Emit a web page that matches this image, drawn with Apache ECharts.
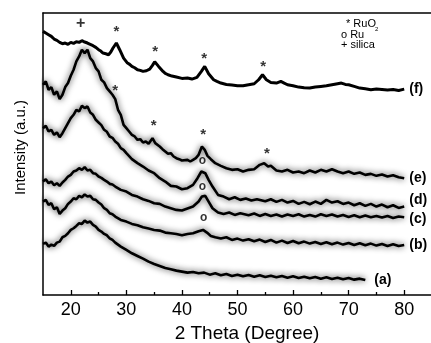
<!DOCTYPE html>
<html>
<head>
<meta charset="utf-8">
<script src="https://cdn.jsdelivr.net/npm/echarts@6/dist/echarts.min.js"></script>
<style>
  html, body { margin: 0; padding: 0; background: #fff; }
  #chart { width: 431px; height: 343px; }
</style>
</head>
<body>
<div id="chart"></div>
<script>
const FONT = '"Liberation Sans", Arial, sans-serif';

const X_TICKS = [20, 30, 40, 50, 60, 70, 80];
const X_MINOR = [25, 35, 45, 55, 65, 75];

// [2theta, intensity (a.u., stacked)]
const curveF = [
  [15, 905], [15.5, 900], [16, 895], [16.5, 890], [17, 882], [17.5, 878], [18, 872], [18.5, 868], [19, 870],
  [19.5, 866], [20, 872], [20.5, 869], [21, 874], [21.5, 872], [22, 877], [22.5, 873], [23, 870], [23.5, 866],
  [24, 862], [24.5, 857], [25, 850], [25.4, 846], [25.8, 840], [26.3, 838], [26.8, 835], [27.2, 843],
  [27.6, 855], [28.2, 870], [28.8, 850], [29.5, 825], [30.2, 810], [30.6, 806], [31, 800], [31.5, 796],
  [32, 790], [32.5, 788], [33, 785], [33.6, 787], [34.2, 792], [34.7, 803], [35.1, 814], [35.8, 800],
  [36.6, 785], [37, 779], [37.5, 775], [38.2, 771], [39, 768], [40, 764], [41, 765], [41.8, 762],
  [42.7, 767], [43.5, 785], [44.1, 800], [44.8, 778], [45.7, 760], [46.3, 755], [47, 750], [48, 746],
  [49, 744], [50, 742], [51, 742], [52, 745], [53, 748], [53.8, 760], [54.5, 775], [55.2, 760], [56, 752],
  [57, 750], [57.8, 755], [58.4, 750], [59, 745], [60, 742], [61, 738], [62, 736], [63, 735], [64, 738],
  [65, 740], [66, 742], [67, 745], [68, 748], [68.7, 750], [69.4, 746], [70, 745], [71, 740], [72, 735],
  [73, 733], [74, 730], [75, 732], [76, 731], [77, 729], [78, 731], [79, 728], [80, 732]
];

const curveE = [
  [15, 745], [15.5, 755], [16, 730], [16.5, 738], [17, 715], [17.5, 725], [18, 702], [18.5, 715], [19, 738],
  [19.5, 750], [20, 772], [20.5, 790], [21, 815], [21.5, 830], [22, 850], [22.5, 840], [23, 850], [23.5, 825],
  [24, 815], [24.5, 795], [25, 785], [25.5, 760], [26, 752], [26.5, 735], [27, 725], [27.5, 715], [28, 702],
  [28.5, 670], [29, 655], [29.5, 625], [30, 615], [30.5, 605], [31, 595], [31.5, 590], [32, 580], [32.5, 582],
  [33, 572], [33.5, 575], [34, 568], [34.7, 585], [35.2, 570], [36, 560], [36.5, 552], [37, 545], [37.5, 538],
  [38, 540], [38.5, 530], [39, 525], [39.5, 522], [40, 518], [41, 520], [41.5, 515], [42, 520], [42.5, 525],
  [43, 535], [43.6, 560], [44.1, 550], [44.6, 532], [45.2, 522], [46, 510], [47, 502], [48, 495], [49, 490],
  [50, 492], [51, 485], [52, 490], [53, 492], [54, 505], [54.8, 510], [55.5, 500], [56, 502], [57, 488],
  [58, 485], [59, 490], [60, 482], [61, 485], [62, 480], [63, 488], [64, 482], [65, 490], [66, 485], [67, 492],
  [68, 485], [69, 480], [70, 485], [71, 478], [72, 482], [73, 475], [74, 478], [75, 472], [76, 476], [77, 470],
  [78, 474], [79, 468], [80, 465]
];

const curveD = [
  [15, 615], [15.5, 622], [16, 605], [16.5, 610], [17, 595], [17.5, 602], [18, 588], [18.5, 600], [19, 615],
  [19.5, 630], [20, 645], [20.5, 655], [21, 670], [21.5, 665], [22, 682], [22.5, 675], [23, 680], [23.5, 662],
  [24, 655], [24.5, 640], [25, 632], [25.5, 624], [26, 610], [26.5, 604], [27, 590], [27.5, 586], [28, 575],
  [28.5, 568], [29, 555], [29.5, 550], [30, 540], [31, 522], [32, 510], [33, 500], [34, 488], [35, 480],
  [36, 465], [37, 455], [38, 442], [39, 440], [40, 432], [41, 435], [42, 445], [42.8, 465], [43.5, 485],
  [44.2, 480], [44.8, 460], [45.5, 440], [46.5, 415], [47.5, 410], [48.5, 402], [49.5, 408], [50.5, 400],
  [51.5, 404], [52.5, 398], [53.5, 402], [55, 396], [56, 402], [57, 394], [58, 400], [59, 392], [60, 397],
  [61, 388], [62, 394], [63, 387], [64, 395], [65, 388], [66, 400], [67, 392], [68, 396], [69, 388], [70, 392],
  [71, 384], [72, 390], [73, 382], [74, 388], [75, 380], [76, 386], [77, 378], [78, 384], [79, 376], [80, 380]
];

const curveC = [
  [15, 455], [15.5, 462], [16, 450], [16.5, 455], [17, 444], [17.5, 450], [18, 442], [18.5, 452], [19, 460],
  [19.5, 470], [20, 475], [20.5, 485], [21, 488], [21.5, 495], [22, 490], [22.5, 498], [23, 488], [23.5, 490],
  [24, 480], [24.5, 478], [25, 470], [25.5, 466], [26, 460], [26.5, 455], [27, 448], [27.5, 446], [28, 440],
  [29, 430], [30, 425], [31, 415], [32, 410], [33, 402], [34, 397], [35, 390], [36, 388], [37, 380], [38, 375],
  [39, 370], [40, 368], [41, 374], [42, 380], [43, 395], [43.6, 410], [44.2, 412], [44.8, 395], [45.5, 375],
  [46.5, 362], [47.5, 358], [48.5, 362], [49.5, 355], [50.5, 360], [52, 354], [53, 359], [54, 352], [55, 358],
  [56, 352], [57, 356], [58, 350], [59, 356], [60, 352], [61, 357], [62, 350], [63, 355], [64, 350], [65, 357],
  [66, 352], [67, 356], [68, 350], [69, 355], [70, 349], [71, 354], [72, 348], [73, 353], [74, 348], [75, 352],
  [76, 347], [77, 352], [78, 346], [79, 350], [80, 348]
];

const curveB = [
  [15, 395], [15.5, 400], [16, 385], [16.5, 390], [17, 372], [17.5, 378], [18, 358], [18.5, 368], [19, 375],
  [19.5, 388], [20, 395], [20.5, 405], [21, 402], [21.5, 412], [22, 408], [22.5, 416], [23, 410], [23.5, 412],
  [24, 402], [24.5, 400], [25, 392], [25.5, 386], [26, 375], [26.5, 370], [27, 360], [27.5, 357], [28, 350],
  [29, 340], [30, 335], [31, 328], [32, 324], [33, 318], [34, 314], [35, 310], [36, 308], [37, 302], [38, 300],
  [39, 298], [40, 294], [41, 298], [42, 300], [43, 306], [43.8, 310], [44.5, 302], [45.2, 292], [46, 288],
  [47, 284], [48, 288], [49, 280], [50, 284], [51, 278], [52, 282], [53, 276], [54, 281], [55, 274], [56, 280],
  [57, 272], [58, 278], [59, 271], [60, 277], [61, 270], [62, 275], [63, 269], [64, 274], [65, 268], [66, 273],
  [67, 267], [68, 272], [69, 266], [70, 271], [71, 265], [72, 270], [73, 264], [74, 269], [75, 263], [76, 268],
  [77, 262], [78, 267], [79, 262], [80, 265]
];

const curveA = [
  [15, 268], [15.5, 272], [16, 260], [16.5, 266], [17, 262], [17.5, 272], [18, 275], [18.5, 288], [19, 292],
  [19.5, 300], [20, 310], [20.5, 315], [21, 322], [21.5, 330], [22, 328], [22.5, 338], [23, 332], [23.5, 335],
  [24, 325], [24.5, 320], [25, 310], [25.5, 305], [26, 298], [26.5, 294], [27, 285], [27.5, 280], [28, 272],
  [29, 260], [30, 250], [31, 240], [32, 232], [33, 224], [34, 215], [35, 208], [36, 202], [37, 196], [38, 192],
  [39, 188], [40, 185], [41, 182], [42, 184], [43, 180], [44, 182], [45, 176], [46, 180], [47, 174], [48, 178],
  [49, 172], [50, 176], [51, 171], [52, 175], [53, 170], [54, 174], [55, 169], [56, 173], [57, 168], [58, 172],
  [59, 167], [60, 171], [61, 166], [62, 170], [63, 165], [64, 169], [65, 164], [66, 168], [67, 163], [68, 167],
  [69, 162], [70, 166], [71, 161], [72, 164], [73, 160]
];

// peak markers
const ruo2Peaks = [[28.2, 912], [35.2, 854], [44.0, 833], [54.6, 807], [28.0, 735], [34.9, 630], [43.8, 603], [55.3, 547]];
const ruPeaks = [[43.7, 513], [43.7, 438], [43.9, 345]];
const silicaPeaks = [[21.8, 928]];

const chart = echarts.init(document.getElementById('chart'), null, { renderer: 'canvas' });

function curve(name, data, width, halo, dist, dy) {
  return {
    name,
    type: 'line',
    data,
    showSymbol: false,
    symbol: 'none',
    animation: false,
    lineStyle: {
      color: '#000',
      width,
      shadowColor: halo ? 'rgba(0,0,0,0.8)' : 'transparent',
      shadowBlur: halo
    },
    endLabel: {
      show: true,
      formatter: name,
      distance: dist,
      offset: [0, dy],
      color: '#000',
      fontFamily: FONT,
      fontWeight: 'bold',
      fontSize: 14
    },
    z: 2
  };
}

function marks(data, ch, size, dy) {
  return {
    type: 'scatter',
    data,
    symbolSize: 1,
    itemStyle: { color: 'transparent' },
    silent: true,
    animation: false,
    label: {
      show: true,
      position: 'inside',
      formatter: ch,
      offset: [0, dy],
      color: '#000',
      fontFamily: FONT,
      fontWeight: 'bold',
      fontSize: size
    },
    z: 5
  };
}

const axisColor = '#000';

chart.setOption({
  backgroundColor: '#fff',
  animation: false,
  grid: { left: 43, top: 13, width: 389, height: 282, outerBoundsMode: 'none' },
  xAxis: [
    {
      type: 'value', min: 15, max: 85, position: 'bottom',
      axisLine: { lineStyle: { color: axisColor, width: 1.5 } },
      axisTick: { inside: true, length: 5, customValues: X_TICKS, lineStyle: { color: axisColor, width: 1.3 } },
      axisLabel: { customValues: X_TICKS, margin: 6, fontSize: 18, color: '#000', fontFamily: FONT },
      splitLine: { show: false },
      name: '2 Theta (Degree)', nameLocation: 'middle', nameGap: 24,
      nameTextStyle: { fontSize: 19, color: '#000', fontFamily: FONT, padding: [0, 0, 0, 19] }
    },
    {
      type: 'value', min: 15, max: 85, position: 'bottom',
      axisLine: { show: false },
      axisTick: { inside: true, length: 3, customValues: X_MINOR, lineStyle: { color: axisColor, width: 1.3 } },
      axisLabel: { show: false },
      splitLine: { show: false }
    },
    {
      type: 'value', min: 15, max: 85, position: 'top',
      axisLine: { lineStyle: { color: axisColor, width: 1.5 } },
      axisTick: { show: false }, axisLabel: { show: false }, splitLine: { show: false }
    }
  ],
  yAxis: {
    type: 'value', min: 115, max: 960,
    axisLine: { show: true, lineStyle: { color: axisColor, width: 1.5 } },
    axisTick: { show: false }, axisLabel: { show: false }, splitLine: { show: false },
    name: 'Intensity (a.u.)', nameLocation: 'middle', nameGap: 15,
    nameTextStyle: { fontSize: 15, color: '#000', fontFamily: FONT, padding: [0, 0, 0, 13] }
  },
  series: [
    curve('(a)', curveA, 2.6, 6, 9, 0),
    curve('(b)', curveB, 2.6, 6, 5, 0),
    curve('(c)', curveC, 2.6, 6, 5, 2),
    curve('(d)', curveD, 2.6, 6, 5, -6),
    curve('(e)', curveE, 2.6, 6, 5, 0),
    curve('(f)', curveF, 3, 0, 5, 0),
    marks(ruo2Peaks, '*', 15, 3),
    marks(ruPeaks, 'o', 12, -1),
    marks(silicaPeaks, '+', 16, 0)
  ],
  graphic: [
    { type: 'text', x: 346, y: 24, style: { text: '* RuO', fontSize: 11, fontFamily: FONT, fill: '#000', verticalAlign: 'middle' } },
    { type: 'text', x: 375, y: 29, style: { text: '2', fontSize: 6, fontFamily: FONT, fill: '#000', verticalAlign: 'middle' } },
    { type: 'text', x: 341, y: 34.5, style: { text: 'o Ru', fontSize: 11, fontFamily: FONT, fill: '#000', verticalAlign: 'middle' } },
    { type: 'text', x: 341, y: 44.5, style: { text: '+ silica', fontSize: 11, fontFamily: FONT, fill: '#000', verticalAlign: 'middle' } }
  ]
});
</script>
</body>
</html>
